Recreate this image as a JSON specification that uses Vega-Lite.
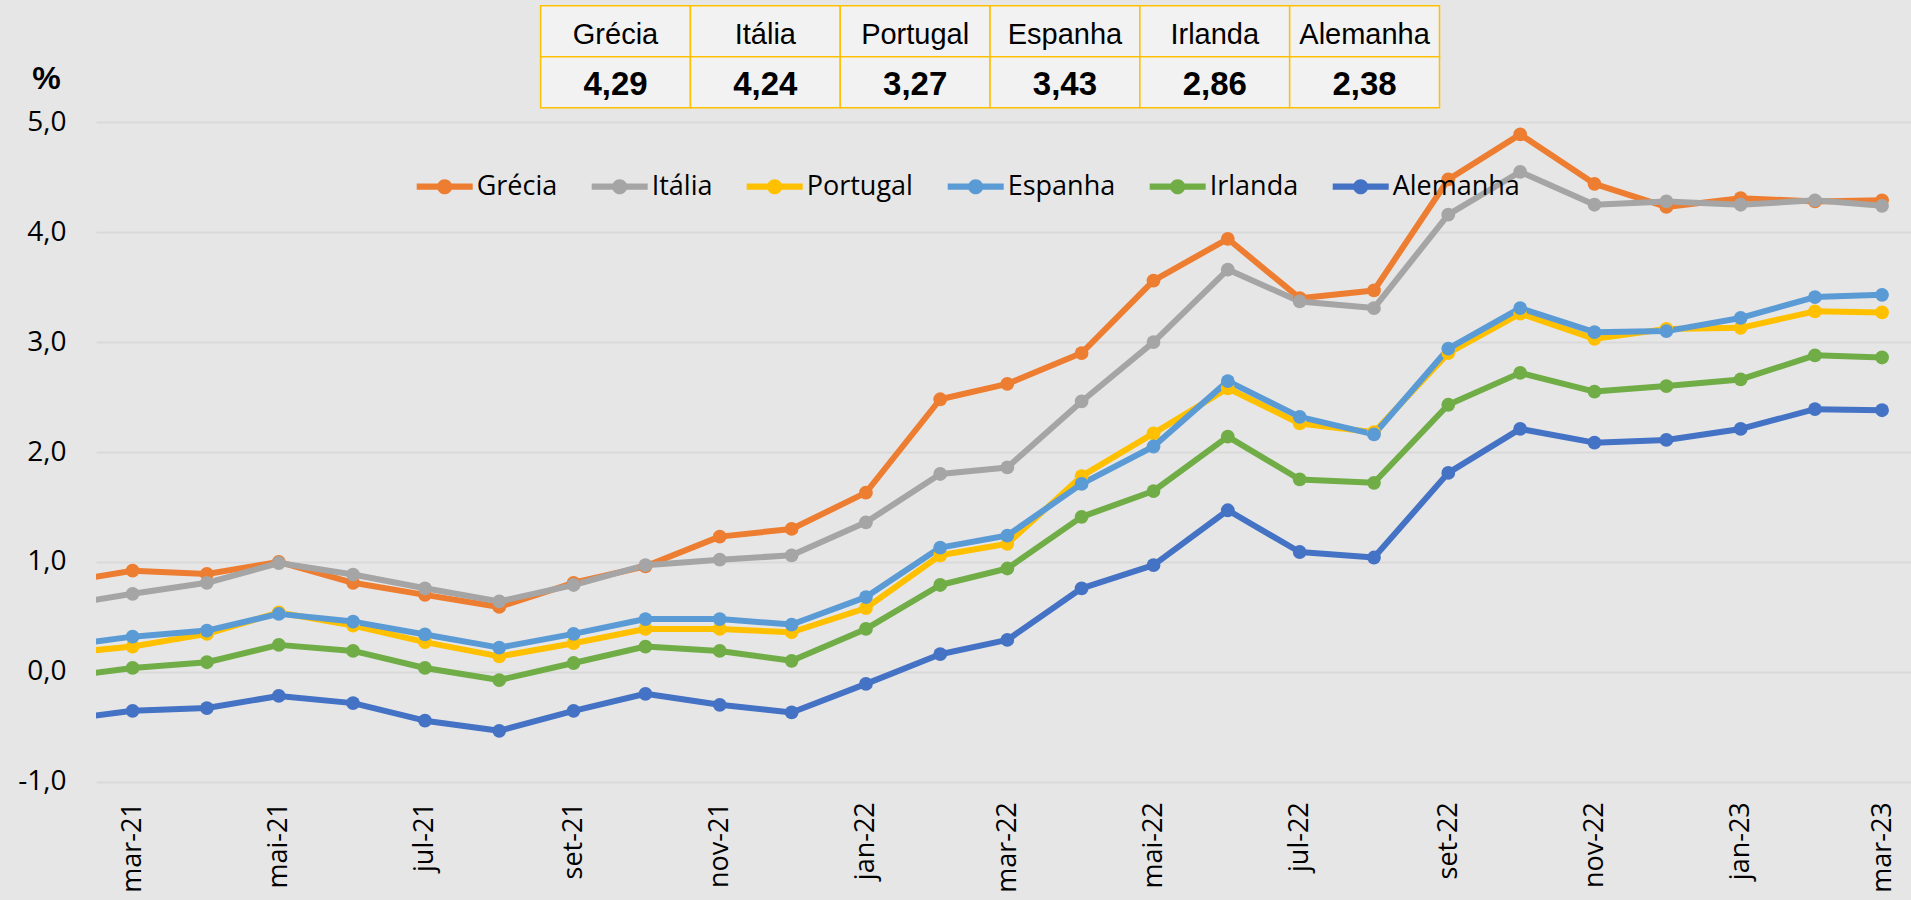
{
  "$schema": "https://vega.github.io/schema/vega-lite/v6.json",
  "width": 1815,
  "height": 781.7,
  "autosize": {"type": "none"},
  "padding": {"left": 96, "top": 0, "right": 0, "bottom": 118.3},
  "background": "#E7E6E6",
  "config": {
    "view": {"stroke": null},
    "locale": {
      "number": {"decimal": ",", "thousands": ".", "grouping": [3], "currency": ["€", ""], "minus": "-"},
      "time": {
        "dateTime": "%A, %e de %B de %Y. %X",
        "date": "%d/%m/%Y",
        "time": "%H:%M:%S",
        "periods": ["AM", "PM"],
        "days": ["domingo", "segunda", "terça", "quarta", "quinta", "sexta", "sábado"],
        "shortDays": ["dom", "seg", "ter", "qua", "qui", "sex", "sáb"],
        "months": ["janeiro", "fevereiro", "março", "abril", "maio", "junho", "julho", "agosto", "setembro", "outubro", "novembro", "dezembro"],
        "shortMonths": ["jan", "fev", "mar", "abr", "mai", "jun", "jul", "ago", "set", "out", "nov", "dez"]
      }
    }
  },
  "datasets": {
    "serie": [
      {"mes": "2021-02-01", "pais": "Grécia", "valor": 0.82},
      {"mes": "2021-03-01", "pais": "Grécia", "valor": 0.92},
      {"mes": "2021-04-01", "pais": "Grécia", "valor": 0.89},
      {"mes": "2021-05-01", "pais": "Grécia", "valor": 1.0},
      {"mes": "2021-06-01", "pais": "Grécia", "valor": 0.81},
      {"mes": "2021-07-01", "pais": "Grécia", "valor": 0.7},
      {"mes": "2021-08-01", "pais": "Grécia", "valor": 0.59},
      {"mes": "2021-09-01", "pais": "Grécia", "valor": 0.81},
      {"mes": "2021-10-01", "pais": "Grécia", "valor": 0.96},
      {"mes": "2021-11-01", "pais": "Grécia", "valor": 1.23},
      {"mes": "2021-12-01", "pais": "Grécia", "valor": 1.3},
      {"mes": "2022-01-01", "pais": "Grécia", "valor": 1.63},
      {"mes": "2022-02-01", "pais": "Grécia", "valor": 2.48},
      {"mes": "2022-03-01", "pais": "Grécia", "valor": 2.62},
      {"mes": "2022-04-01", "pais": "Grécia", "valor": 2.9},
      {"mes": "2022-05-01", "pais": "Grécia", "valor": 3.56},
      {"mes": "2022-06-01", "pais": "Grécia", "valor": 3.94},
      {"mes": "2022-07-01", "pais": "Grécia", "valor": 3.4},
      {"mes": "2022-08-01", "pais": "Grécia", "valor": 3.47},
      {"mes": "2022-09-01", "pais": "Grécia", "valor": 4.48},
      {"mes": "2022-10-01", "pais": "Grécia", "valor": 4.89},
      {"mes": "2022-11-01", "pais": "Grécia", "valor": 4.44},
      {"mes": "2022-12-01", "pais": "Grécia", "valor": 4.23},
      {"mes": "2023-01-01", "pais": "Grécia", "valor": 4.31},
      {"mes": "2023-02-01", "pais": "Grécia", "valor": 4.28},
      {"mes": "2023-03-01", "pais": "Grécia", "valor": 4.29},
      {"mes": "2021-02-01", "pais": "Itália", "valor": 0.61},
      {"mes": "2021-03-01", "pais": "Itália", "valor": 0.71},
      {"mes": "2021-04-01", "pais": "Itália", "valor": 0.81},
      {"mes": "2021-05-01", "pais": "Itália", "valor": 0.99},
      {"mes": "2021-06-01", "pais": "Itália", "valor": 0.885},
      {"mes": "2021-07-01", "pais": "Itália", "valor": 0.76},
      {"mes": "2021-08-01", "pais": "Itália", "valor": 0.64},
      {"mes": "2021-09-01", "pais": "Itália", "valor": 0.79},
      {"mes": "2021-10-01", "pais": "Itália", "valor": 0.97},
      {"mes": "2021-11-01", "pais": "Itália", "valor": 1.02},
      {"mes": "2021-12-01", "pais": "Itália", "valor": 1.06},
      {"mes": "2022-01-01", "pais": "Itália", "valor": 1.36},
      {"mes": "2022-02-01", "pais": "Itália", "valor": 1.8},
      {"mes": "2022-03-01", "pais": "Itália", "valor": 1.86},
      {"mes": "2022-04-01", "pais": "Itália", "valor": 2.46},
      {"mes": "2022-05-01", "pais": "Itália", "valor": 3.0},
      {"mes": "2022-06-01", "pais": "Itália", "valor": 3.66},
      {"mes": "2022-07-01", "pais": "Itália", "valor": 3.37},
      {"mes": "2022-08-01", "pais": "Itália", "valor": 3.31},
      {"mes": "2022-09-01", "pais": "Itália", "valor": 4.16},
      {"mes": "2022-10-01", "pais": "Itália", "valor": 4.55},
      {"mes": "2022-11-01", "pais": "Itália", "valor": 4.25},
      {"mes": "2022-12-01", "pais": "Itália", "valor": 4.28},
      {"mes": "2023-01-01", "pais": "Itália", "valor": 4.25},
      {"mes": "2023-02-01", "pais": "Itália", "valor": 4.29},
      {"mes": "2023-03-01", "pais": "Itália", "valor": 4.24},
      {"mes": "2021-02-01", "pais": "Portugal", "valor": 0.17},
      {"mes": "2021-03-01", "pais": "Portugal", "valor": 0.23},
      {"mes": "2021-04-01", "pais": "Portugal", "valor": 0.345},
      {"mes": "2021-05-01", "pais": "Portugal", "valor": 0.54},
      {"mes": "2021-06-01", "pais": "Portugal", "valor": 0.42},
      {"mes": "2021-07-01", "pais": "Portugal", "valor": 0.27},
      {"mes": "2021-08-01", "pais": "Portugal", "valor": 0.14},
      {"mes": "2021-09-01", "pais": "Portugal", "valor": 0.26},
      {"mes": "2021-10-01", "pais": "Portugal", "valor": 0.39},
      {"mes": "2021-11-01", "pais": "Portugal", "valor": 0.39},
      {"mes": "2021-12-01", "pais": "Portugal", "valor": 0.36},
      {"mes": "2022-01-01", "pais": "Portugal", "valor": 0.58},
      {"mes": "2022-02-01", "pais": "Portugal", "valor": 1.06},
      {"mes": "2022-03-01", "pais": "Portugal", "valor": 1.165},
      {"mes": "2022-04-01", "pais": "Portugal", "valor": 1.78},
      {"mes": "2022-05-01", "pais": "Portugal", "valor": 2.17},
      {"mes": "2022-06-01", "pais": "Portugal", "valor": 2.58},
      {"mes": "2022-07-01", "pais": "Portugal", "valor": 2.26},
      {"mes": "2022-08-01", "pais": "Portugal", "valor": 2.18},
      {"mes": "2022-09-01", "pais": "Portugal", "valor": 2.9},
      {"mes": "2022-10-01", "pais": "Portugal", "valor": 3.26},
      {"mes": "2022-11-01", "pais": "Portugal", "valor": 3.03},
      {"mes": "2022-12-01", "pais": "Portugal", "valor": 3.12},
      {"mes": "2023-01-01", "pais": "Portugal", "valor": 3.13},
      {"mes": "2023-02-01", "pais": "Portugal", "valor": 3.28},
      {"mes": "2023-03-01", "pais": "Portugal", "valor": 3.27},
      {"mes": "2021-02-01", "pais": "Espanha", "valor": 0.24},
      {"mes": "2021-03-01", "pais": "Espanha", "valor": 0.32},
      {"mes": "2021-04-01", "pais": "Espanha", "valor": 0.375},
      {"mes": "2021-05-01", "pais": "Espanha", "valor": 0.527},
      {"mes": "2021-06-01", "pais": "Espanha", "valor": 0.457},
      {"mes": "2021-07-01", "pais": "Espanha", "valor": 0.34},
      {"mes": "2021-08-01", "pais": "Espanha", "valor": 0.22},
      {"mes": "2021-09-01", "pais": "Espanha", "valor": 0.345},
      {"mes": "2021-10-01", "pais": "Espanha", "valor": 0.48},
      {"mes": "2021-11-01", "pais": "Espanha", "valor": 0.48},
      {"mes": "2021-12-01", "pais": "Espanha", "valor": 0.43},
      {"mes": "2022-01-01", "pais": "Espanha", "valor": 0.68},
      {"mes": "2022-02-01", "pais": "Espanha", "valor": 1.13},
      {"mes": "2022-03-01", "pais": "Espanha", "valor": 1.24},
      {"mes": "2022-04-01", "pais": "Espanha", "valor": 1.71},
      {"mes": "2022-05-01", "pais": "Espanha", "valor": 2.05},
      {"mes": "2022-06-01", "pais": "Espanha", "valor": 2.645},
      {"mes": "2022-07-01", "pais": "Espanha", "valor": 2.32},
      {"mes": "2022-08-01", "pais": "Espanha", "valor": 2.16},
      {"mes": "2022-09-01", "pais": "Espanha", "valor": 2.94},
      {"mes": "2022-10-01", "pais": "Espanha", "valor": 3.31},
      {"mes": "2022-11-01", "pais": "Espanha", "valor": 3.09},
      {"mes": "2022-12-01", "pais": "Espanha", "valor": 3.1},
      {"mes": "2023-01-01", "pais": "Espanha", "valor": 3.22},
      {"mes": "2023-02-01", "pais": "Espanha", "valor": 3.41},
      {"mes": "2023-03-01", "pais": "Espanha", "valor": 3.43},
      {"mes": "2021-02-01", "pais": "Irlanda", "valor": -0.045},
      {"mes": "2021-03-01", "pais": "Irlanda", "valor": 0.035},
      {"mes": "2021-04-01", "pais": "Irlanda", "valor": 0.087},
      {"mes": "2021-05-01", "pais": "Irlanda", "valor": 0.245},
      {"mes": "2021-06-01", "pais": "Irlanda", "valor": 0.19},
      {"mes": "2021-07-01", "pais": "Irlanda", "valor": 0.035},
      {"mes": "2021-08-01", "pais": "Irlanda", "valor": -0.075},
      {"mes": "2021-09-01", "pais": "Irlanda", "valor": 0.08},
      {"mes": "2021-10-01", "pais": "Irlanda", "valor": 0.23},
      {"mes": "2021-11-01", "pais": "Irlanda", "valor": 0.19},
      {"mes": "2021-12-01", "pais": "Irlanda", "valor": 0.1},
      {"mes": "2022-01-01", "pais": "Irlanda", "valor": 0.39},
      {"mes": "2022-02-01", "pais": "Irlanda", "valor": 0.79},
      {"mes": "2022-03-01", "pais": "Irlanda", "valor": 0.94},
      {"mes": "2022-04-01", "pais": "Irlanda", "valor": 1.41},
      {"mes": "2022-05-01", "pais": "Irlanda", "valor": 1.645},
      {"mes": "2022-06-01", "pais": "Irlanda", "valor": 2.14},
      {"mes": "2022-07-01", "pais": "Irlanda", "valor": 1.75},
      {"mes": "2022-08-01", "pais": "Irlanda", "valor": 1.72},
      {"mes": "2022-09-01", "pais": "Irlanda", "valor": 2.43},
      {"mes": "2022-10-01", "pais": "Irlanda", "valor": 2.72},
      {"mes": "2022-11-01", "pais": "Irlanda", "valor": 2.55},
      {"mes": "2022-12-01", "pais": "Irlanda", "valor": 2.6},
      {"mes": "2023-01-01", "pais": "Irlanda", "valor": 2.66},
      {"mes": "2023-02-01", "pais": "Irlanda", "valor": 2.88},
      {"mes": "2023-03-01", "pais": "Irlanda", "valor": 2.86},
      {"mes": "2021-02-01", "pais": "Alemanha", "valor": -0.433},
      {"mes": "2021-03-01", "pais": "Alemanha", "valor": -0.355},
      {"mes": "2021-04-01", "pais": "Alemanha", "valor": -0.33},
      {"mes": "2021-05-01", "pais": "Alemanha", "valor": -0.22},
      {"mes": "2021-06-01", "pais": "Alemanha", "valor": -0.285},
      {"mes": "2021-07-01", "pais": "Alemanha", "valor": -0.445},
      {"mes": "2021-08-01", "pais": "Alemanha", "valor": -0.537},
      {"mes": "2021-09-01", "pais": "Alemanha", "valor": -0.355},
      {"mes": "2021-10-01", "pais": "Alemanha", "valor": -0.2},
      {"mes": "2021-11-01", "pais": "Alemanha", "valor": -0.3},
      {"mes": "2021-12-01", "pais": "Alemanha", "valor": -0.37},
      {"mes": "2022-01-01", "pais": "Alemanha", "valor": -0.11},
      {"mes": "2022-02-01", "pais": "Alemanha", "valor": 0.16},
      {"mes": "2022-03-01", "pais": "Alemanha", "valor": 0.29},
      {"mes": "2022-04-01", "pais": "Alemanha", "valor": 0.76},
      {"mes": "2022-05-01", "pais": "Alemanha", "valor": 0.97},
      {"mes": "2022-06-01", "pais": "Alemanha", "valor": 1.47},
      {"mes": "2022-07-01", "pais": "Alemanha", "valor": 1.09},
      {"mes": "2022-08-01", "pais": "Alemanha", "valor": 1.04},
      {"mes": "2022-09-01", "pais": "Alemanha", "valor": 1.81},
      {"mes": "2022-10-01", "pais": "Alemanha", "valor": 2.21},
      {"mes": "2022-11-01", "pais": "Alemanha", "valor": 2.085},
      {"mes": "2022-12-01", "pais": "Alemanha", "valor": 2.11},
      {"mes": "2023-01-01", "pais": "Alemanha", "valor": 2.21},
      {"mes": "2023-02-01", "pais": "Alemanha", "valor": 2.39},
      {"mes": "2023-03-01", "pais": "Alemanha", "valor": 2.38}
    ],
    "tabela": [
      {"pais": "Grécia", "valor": 4.29},
      {"pais": "Itália", "valor": 4.24},
      {"pais": "Portugal", "valor": 3.27},
      {"pais": "Espanha", "valor": 3.43},
      {"pais": "Irlanda", "valor": 2.86},
      {"pais": "Alemanha", "valor": 2.38}
    ]
  },
  "layer": [
    {
      "data": {"name": "serie"},
      "encoding": {
        "x": {
          "field": "mes",
          "type": "temporal",
          "scale": {
            "type": "utc",
            "domain": [
              {"year": 2021, "month": 2, "date": 13, "hours": 17, "minutes": 30, "utc": true},
              {"year": 2023, "month": 3, "date": 13, "hours": 2, "utc": true}
            ]
          },
          "axis": {
            "title": null,
            "tickCount": {"interval": "month", "step": 2},
            "labelExpr": "utcFormat(datum.value, '%b-%y')",
            "labelAngle": -90,
            "labelFont": "Open Sans",
            "labelFontSize": 27,
            "labelColor": "#000000",
            "labelPadding": 20,
            "ticks": false,
            "tickSize": 0,
            "domain": false,
            "grid": false,
            "labelOverlap": false,
            "labelFlush": false,
            "labelBound": false
          }
        },
        "y": {
          "field": "valor",
          "type": "quantitative",
          "scale": {"domain": [-1, 6.113], "nice": false, "zero": false},
          "axis": {
            "values": [-1, 0, 1, 2, 3, 4, 5],
            "format": ".1f",
            "grid": true,
            "gridColor": "#D9D9D9",
            "gridWidth": 2,
            "domain": false,
            "ticks": false,
            "tickSize": 0,
            "labelPadding": 30,
            "labelFont": "Open Sans",
            "labelFontSize": 28,
            "labelColor": "#000000",
            "title": "%",
            "titleFont": "Liberation Sans",
            "titleFontSize": 32,
            "titleFontWeight": "bold",
            "titleColor": "#000000",
            "titleAngle": 0,
            "titleX": -50,
            "titleY": 78,
            "titleAlign": "center",
            "titleBaseline": "middle"
          }
        },
        "color": {
          "field": "pais",
          "type": "nominal",
          "scale": {
            "domain": ["Grécia", "Itália", "Portugal", "Espanha", "Irlanda", "Alemanha"],
            "range": ["#ED7D31", "#A5A5A5", "#FFC000", "#5B9BD5", "#70AD47", "#4472C4"]
          },
          "legend": {
            "orient": "none",
            "legendX": 320.7,
            "legendY": 158.7,
            "direction": "horizontal",
            "title": null,
            "padding": 0,
            "columnPadding": 34,
            "labelOffset": 4,
            "labelFont": "Open Sans",
            "labelFontSize": 27,
            "labelColor": "#000000",
            "labelLimit": 0,
            "symbolSize": 3136,
            "symbolType": "M-1,-0.11H1V0.11H-1Z M0.27,0A0.27,0.27,0,1,1,-0.27,0A0.27,0.27,0,1,1,0.27,0Z",
            "symbolStrokeWidth": 0,
            "encode": {"symbols": {"update": {"fill": {"scale": "color", "field": "value"}, "opacity": {"value": 1}}}}
          }
        }
      },
      "layer": [
        {"mark": {"type": "line", "clip": true, "strokeWidth": 6, "strokeJoin": "round", "strokeCap": "round"}},
        {"mark": {"type": "point", "clip": true, "filled": true, "size": 190, "opacity": 1}}
      ]
    },
    {
      "data": {"name": "tabela"},
      "encoding": {
        "x": {
          "field": "pais",
          "type": "nominal",
          "sort": ["Grécia", "Itália", "Portugal", "Espanha", "Irlanda", "Alemanha"],
          "scale": {"type": "band", "paddingInner": 0, "paddingOuter": 0, "range": [444.6, 1343.5]},
          "axis": null
        }
      },
      "layer": [
        {
          "mark": {"type": "rect", "fill": "#F2F2F2", "stroke": "#FFC000", "strokeWidth": 1.5},
          "encoding": {
            "y": {"datum": "nome", "type": "nominal", "scale": {"type": "band", "domain": ["nome", "valor"], "paddingInner": 0, "paddingOuter": 0, "range": [5.7, 107.7]}, "axis": null}
          }
        },
        {
          "mark": {"type": "rect", "fill": "#F2F2F2", "stroke": "#FFC000", "strokeWidth": 1.5},
          "encoding": {"y": {"datum": "valor", "type": "nominal"}}
        },
        {
          "mark": {"type": "text", "font": "Liberation Sans", "fontSize": 29, "dy": 4, "color": "#000000"},
          "encoding": {"y": {"datum": "nome", "type": "nominal"}, "text": {"field": "pais", "type": "nominal"}}
        },
        {
          "mark": {"type": "text", "font": "Liberation Sans", "fontSize": 33, "fontWeight": "bold", "dy": 3, "color": "#000000"},
          "encoding": {"y": {"datum": "valor", "type": "nominal"}, "text": {"field": "valor", "type": "quantitative", "format": ".2f"}}
        }
      ]
    }
  ],
  "resolve": {"scale": {"x": "independent", "y": "independent"}}
}
